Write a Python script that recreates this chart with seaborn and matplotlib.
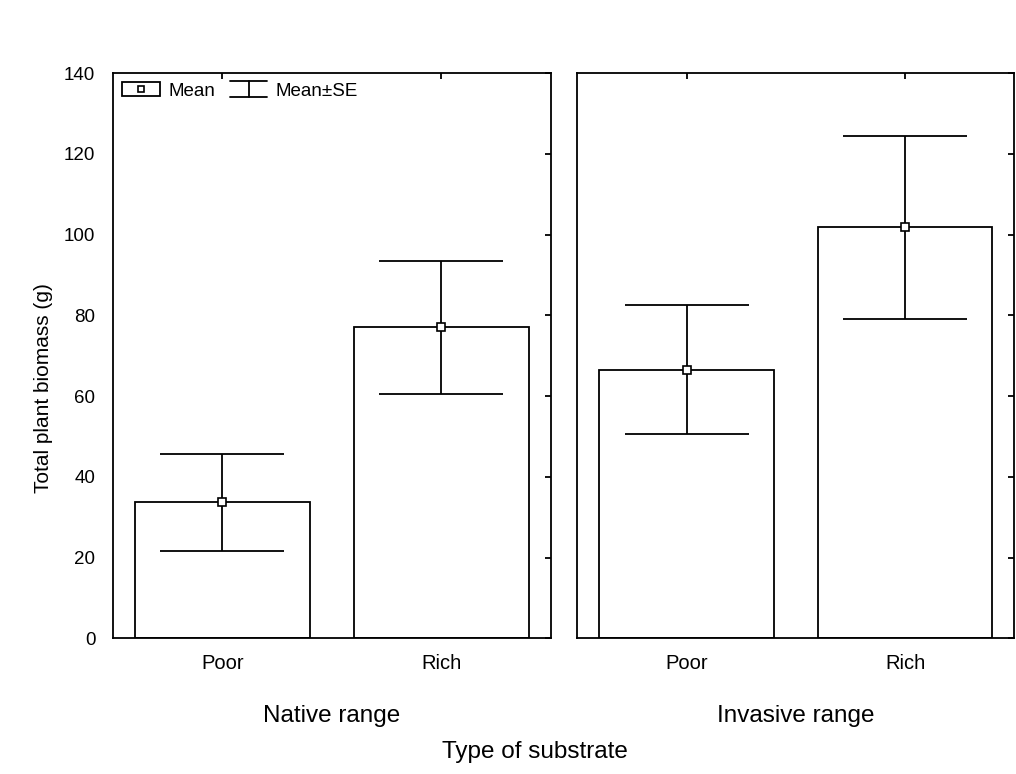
import matplotlib
matplotlib.use("Agg")
import matplotlib.pyplot as plt
import seaborn as sns
import pandas as pd
import numpy as np
from matplotlib.patches import Patch
from matplotlib.lines import Line2D
from matplotlib.legend_handler import HandlerTuple, HandlerBase

# ---- data ----
substrates = ["Poor", "Rich"]
range_names = ["Native range", "Invasive range"]
native_means = [33.7, 77.0]
native_se = [12.0, 16.5]
invasive_means = [66.5, 101.8]
invasive_se = [16.0, 22.6]
y_ticks = [0, 20, 40, 60, 80, 100, 120, 140]

sns.set_theme(style="white")
plt.rcParams["font.family"] = ["Liberation Sans", "DejaVu Sans"]

W, H = 1016, 774
fig = plt.figure(figsize=(W / 100, H / 100), dpi=100)
ax1 = fig.add_axes([112.7 / W, 1 - 638.3 / H, 438.3 / W, 565.3 / H])
ax2 = fig.add_axes([577.3 / W, 1 - 638.3 / H, 437.0 / W, 565.3 / H])

LW = 1.3
panels = [(ax1, native_means, native_se, range_names[0]),
          (ax2, invasive_means, invasive_se, range_names[1])]

for ax, means, ses, rname in panels:
    df = pd.DataFrame({"substrate": substrates, "mean": means, "se": ses})
    sns.barplot(data=df, x="substrate", y="mean", ax=ax, color="white",
                saturation=1, edgecolor="black", linewidth=LW, width=0.8,
                errorbar=None)
    pos = np.arange(len(substrates))
    ax.errorbar(pos, df["mean"], yerr=df["se"], fmt="none", ecolor="black",
                elinewidth=LW, capsize=44.5, capthick=LW, zorder=3)
    ax.plot(pos, df["mean"], ls="none", marker="s", ms=5.5, mfc="white",
            mec="black", mew=1.2, zorder=4)
    ax.set_ylim(0, 140)
    ax.set_xlim(-0.5, len(substrates) - 0.5)
    ax.set_yticks(y_ticks)
    ax.set_xlabel("")
    ax.set_ylabel("")
    for sp in ax.spines.values():
        sp.set_visible(True)
        sp.set_color("black")
        sp.set_linewidth(LW)
    ax.tick_params(axis="x", which="both", direction="in", top=True, bottom=True,
                   length=4, width=LW, color="black", labelsize=14.5, pad=11.0,
                   labelcolor="black")
    ax.tick_params(axis="y", which="both", direction="in", left=False, right=True,
                   length=4, width=LW, color="black", labelsize=13.5, pad=12.5,
                   labelcolor="black")
    ax.set_facecolor("white")
    bb = ax.get_position()
    fig.text((bb.x0 + bb.x1) / 2, 1 - 722 / H, rname, ha="center", va="baseline",
             fontsize=17.5, color="black")

ax2.tick_params(axis="y", labelleft=False)

fig.text(535 / W, 1 - 758 / H, "Type of substrate", ha="center", va="baseline",
         fontsize=17.5, color="black")
fig.text(43.5 / W, 1 - 388 / H, "Total plant biomass (g)", rotation=90,
         ha="center", va="center", fontsize=15, color="black")


class HandlerIBeam(HandlerBase):
    def create_artists(self, legend, orig_handle, xdescent, ydescent, width,
                       height, fontsize, trans):
        x0, y0 = -xdescent, -ydescent - 1
        h = height + 2
        xc = x0 + width / 2
        arts = [Line2D([x0, x0 + width], [y0 + h, y0 + h]),
                Line2D([x0, x0 + width], [y0, y0]),
                Line2D([xc, xc], [y0, y0 + h])]
        for a in arts:
            a.set_color("black")
            a.set_linewidth(LW)
            a.set_transform(trans)
        return arts


mean_box = Patch(facecolor="white", edgecolor="black", linewidth=LW)
mean_mark = Line2D([], [], ls="none", marker="s", ms=5, mfc="white",
                   mec="black", mew=1.2)
se_handle = Line2D([], [])
leg = ax1.legend([(mean_box, mean_mark), se_handle], ["Mean", "Mean±SE"],
                 handler_map={tuple: HandlerTuple(ndivide=1, pad=0),
                              se_handle: HandlerIBeam()},
                 loc="upper left", bbox_to_anchor=(0, 1), ncol=2, frameon=False,
                 fontsize=13.5, handlelength=2.0, handletextpad=0.45,
                 columnspacing=0.8, borderaxespad=0.15, borderpad=0.35,
                 numpoints=1)
for t in leg.get_texts():
    t.set_color("black")

fig.savefig("out.png", dpi=100, facecolor="white")
